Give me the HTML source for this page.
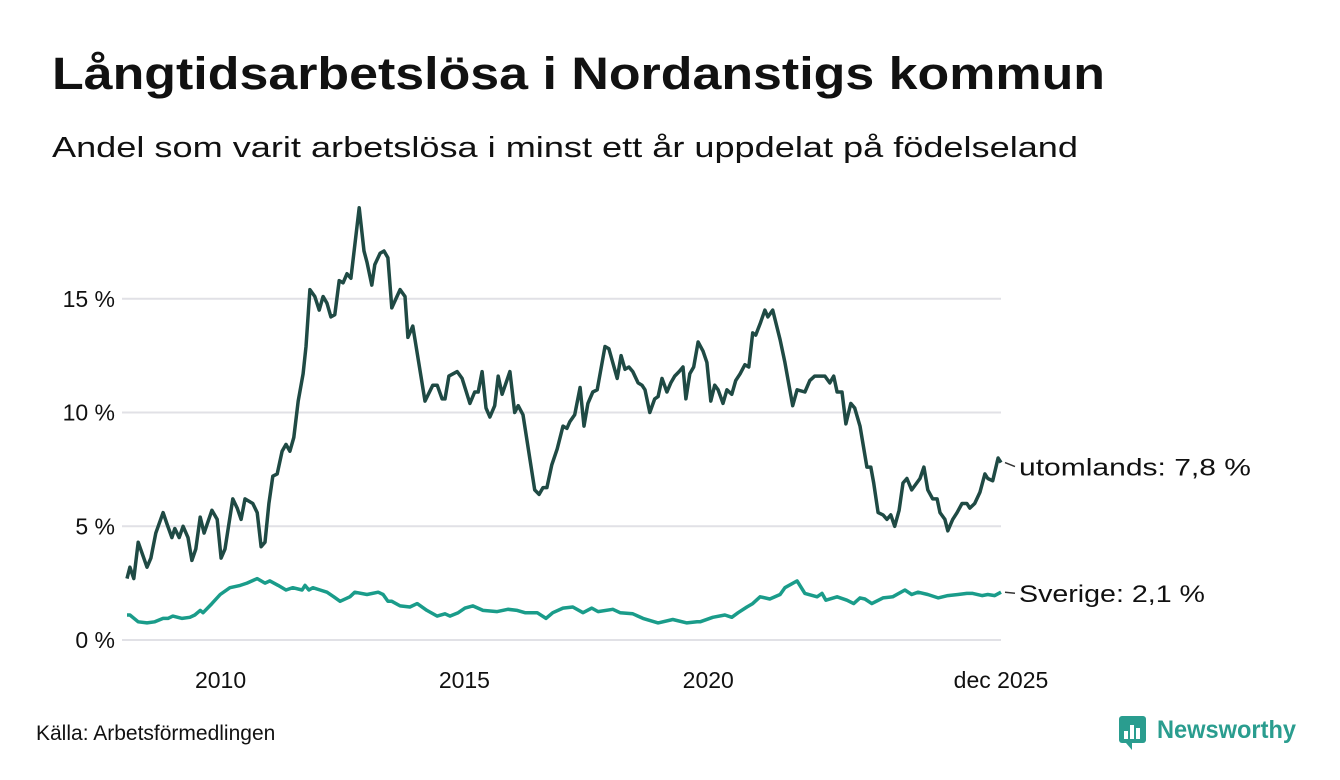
<!DOCTYPE html>
<html><head><meta charset="utf-8"><style>
html,body{margin:0;padding:0;background:#fff;}
svg{display:block;font-family:"Liberation Sans",sans-serif;}
</style></head><body>
<svg width="1340" height="780" viewBox="0 0 1340 780">
<text x="52" y="89" font-size="45" font-weight="bold" fill="#111" textLength="1053" lengthAdjust="spacingAndGlyphs">Långtidsarbetslösa i Nordanstigs kommun</text>
<text x="52" y="157" font-size="29" fill="#111" textLength="1026" lengthAdjust="spacingAndGlyphs">Andel som varit arbetslösa i minst ett år uppdelat på födelseland</text>
<g id="grid"></g>
<g id="yticks"></g>
<g id="xticks"></g>
<g id="lines"></g>
<g id="labels"></g>
<text x="36" y="740" font-size="21" fill="#111">Källa: Arbetsförmedlingen</text>
<g>
<rect x="1119" y="716" width="27" height="27" rx="3" fill="#2a9d8f"/>
<path d="M1126,743 L1132,750 L1132,743 Z" fill="#2a9d8f"/>
<rect x="1124" y="731" width="4" height="8" fill="#fff"/><rect x="1130" y="725" width="4" height="14" fill="#fff"/><rect x="1136" y="728" width="4" height="11" fill="#fff"/>
<text x="1157" y="738" font-size="25" font-weight="bold" fill="#2a9d8f" textLength="139" lengthAdjust="spacingAndGlyphs">Newsworthy</text>
</g>
</svg>
<script>
const yTicks = [0, 5, 10, 15];
const yTickLabels = ["0 %", "5 %", "10 %", "15 %"];
const xTicks = [2010, 2015, 2020, 2025.92];
const xTickLabels = ["2010", "2015", "2020", "dec 2025"];
const seriesNames = ["utomlands", "Sverige"];
const lastLabels = ["utomlands: 7,8 %", "Sverige: 2,1 %"];
const foreignT = [2008.00,2008.06,2008.14,2008.23,2008.41,2008.49,2008.59,2008.74,2008.82,2008.92,2008.98,2009.07,2009.15,2009.25,2009.33,2009.41,2009.50,2009.58,2009.74,2009.85,2009.93,2010.01,2010.17,2010.26,2010.34,2010.42,2010.58,2010.67,2010.75,2010.83,2010.91,2010.99,2011.08,2011.18,2011.26,2011.34,2011.42,2011.51,2011.61,2011.67,2011.75,2011.85,2011.94,2012.02,2012.10,2012.18,2012.26,2012.35,2012.43,2012.51,2012.59,2012.76,2012.86,2012.92,2013.02,2013.08,2013.19,2013.27,2013.35,2013.43,2013.60,2013.70,2013.76,2013.86,2014.11,2014.27,2014.36,2014.46,2014.52,2014.60,2014.77,2014.87,2015.03,2015.13,2015.20,2015.28,2015.36,2015.44,2015.54,2015.61,2015.69,2015.85,2015.95,2016.02,2016.12,2016.36,2016.45,2016.53,2016.61,2016.71,2016.82,2016.94,2017.02,2017.08,2017.18,2017.29,2017.37,2017.45,2017.55,2017.64,2017.80,2017.88,2018.05,2018.13,2018.21,2018.29,2018.37,2018.48,2018.56,2018.62,2018.72,2018.82,2018.89,2018.97,2019.07,2019.15,2019.23,2019.32,2019.40,2019.46,2019.54,2019.62,2019.71,2019.81,2019.89,2019.97,2020.05,2020.12,2020.22,2020.30,2020.40,2020.48,2020.57,2020.67,2020.75,2020.83,2020.89,2020.98,2021.08,2021.14,2021.24,2021.39,2021.49,2021.65,2021.74,2021.90,2022.00,2022.10,2022.31,2022.41,2022.49,2022.56,2022.66,2022.74,2022.84,2022.92,2023.03,2023.17,2023.25,2023.31,2023.40,2023.50,2023.58,2023.66,2023.74,2023.83,2023.91,2023.99,2024.09,2024.26,2024.34,2024.42,2024.52,2024.61,2024.67,2024.77,2024.83,2024.93,2025.02,2025.12,2025.22,2025.28,2025.38,2025.49,2025.59,2025.65,2025.75,2025.86,2025.92];
const foreignV = [2.7,3.2,2.7,4.3,3.2,3.6,4.7,5.6,5.1,4.5,4.9,4.5,5.0,4.5,3.5,4.0,5.4,4.7,5.7,5.3,3.6,4.0,6.2,5.8,5.3,6.2,6.0,5.6,4.1,4.3,6.0,7.2,7.3,8.3,8.6,8.3,8.9,10.5,11.7,12.9,15.4,15.1,14.5,15.1,14.8,14.2,14.3,15.8,15.7,16.1,15.9,19.0,17.1,16.6,15.6,16.5,17.0,17.1,16.8,14.6,15.4,15.1,13.3,13.8,10.5,11.2,11.2,10.6,10.6,11.6,11.8,11.5,10.4,10.9,10.9,11.8,10.2,9.8,10.3,11.6,10.8,11.8,10.0,10.3,9.9,6.6,6.4,6.7,6.7,7.7,8.4,9.4,9.3,9.6,9.9,11.1,9.4,10.4,10.9,11.0,12.9,12.8,11.5,12.5,11.9,12.0,11.8,11.3,11.2,11.0,10.0,10.6,10.7,11.5,10.9,11.3,11.6,11.8,12.0,10.6,11.7,12.0,13.1,12.7,12.2,10.5,11.2,11.0,10.4,11.0,10.8,11.4,11.7,12.1,12.0,13.5,13.4,13.9,14.5,14.2,14.5,13.2,12.2,10.3,11.0,10.9,11.4,11.6,11.6,11.3,11.6,10.9,10.9,9.5,10.4,10.2,9.4,7.6,7.6,6.9,5.6,5.5,5.3,5.5,5.0,5.7,6.9,7.1,6.6,7.1,7.6,6.6,6.2,6.2,5.6,5.3,4.8,5.3,5.6,6.0,6.0,5.8,6.0,6.5,7.3,7.1,7.0,8.0,7.8];
const swedenT = [2008.00,2008.06,2008.23,2008.41,2008.57,2008.74,2008.84,2008.94,2009.13,2009.29,2009.39,2009.50,2009.56,2009.74,2009.91,2010.11,2010.32,2010.46,2010.67,2010.83,2010.93,2011.10,2011.26,2011.40,2011.59,2011.65,2011.73,2011.81,2011.96,2012.10,2012.24,2012.37,2012.57,2012.67,2012.92,2013.15,2013.25,2013.35,2013.43,2013.60,2013.80,2013.95,2014.15,2014.36,2014.52,2014.62,2014.79,2014.93,2015.09,2015.30,2015.59,2015.81,2016.00,2016.16,2016.41,2016.59,2016.73,2016.94,2017.14,2017.35,2017.53,2017.66,2017.96,2018.11,2018.37,2018.58,2018.89,2019.19,2019.48,2019.69,2019.75,2020.01,2020.26,2020.40,2020.53,2020.71,2020.83,2020.98,2021.18,2021.39,2021.49,2021.74,2021.90,2022.15,2022.25,2022.33,2022.56,2022.76,2022.90,2023.03,2023.13,2023.27,2023.50,2023.70,2023.95,2024.09,2024.22,2024.42,2024.63,2024.83,2025.04,2025.22,2025.34,2025.53,2025.65,2025.79,2025.92];
const swedenV = [1.1,1.1,0.8,0.75,0.8,0.95,0.95,1.05,0.95,1.0,1.1,1.3,1.2,1.6,2.0,2.3,2.4,2.5,2.7,2.5,2.6,2.4,2.2,2.3,2.2,2.4,2.2,2.3,2.2,2.1,1.9,1.7,1.9,2.1,2.0,2.1,2.0,1.7,1.7,1.5,1.45,1.6,1.3,1.05,1.15,1.05,1.2,1.4,1.5,1.3,1.25,1.35,1.3,1.2,1.2,0.95,1.2,1.4,1.45,1.2,1.4,1.25,1.35,1.2,1.15,0.95,0.75,0.9,0.75,0.8,0.8,1.0,1.1,1.0,1.2,1.45,1.6,1.9,1.8,2.0,2.3,2.6,2.05,1.9,2.05,1.75,1.9,1.75,1.6,1.85,1.8,1.6,1.85,1.9,2.2,2.0,2.1,2.0,1.85,1.95,2.0,2.05,2.05,1.95,2.0,1.95,2.1];

const NS = "http://www.w3.org/2000/svg";
const X0 = 127, X1 = 1001, T0 = 2008.0, T1 = 2025.92;
const Y0 = 640, PXPER = 22.75;
function xs(t){ return X0 + (t - T0) / (T1 - T0) * (X1 - X0); }
function ys(v){ return Y0 - v * PXPER; }
function mk(tag, attrs, parent){ const e = document.createElementNS(NS, tag); for (const k in attrs) e.setAttribute(k, attrs[k]); parent.appendChild(e); return e; }

const grid = document.getElementById('grid');
const yt = document.getElementById('yticks');
yTicks.forEach((v, i) => {
  const l = mk('line', {x1:122, x2:1001, y1:ys(v), y2:ys(v), stroke:'#e1e1e6', 'stroke-width':2}, grid);
  
  
  const t = mk('text', {x:115, y:ys(v)+8, 'font-size':23, fill:'#111', 'text-anchor':'end'}, yt);
  t.textContent = yTickLabels[i];
  
  
});
const xt = document.getElementById('xticks');
xTicks.forEach((v, i) => {
  const t = mk('text', {x:xs(v) - (i === 3 ? 0 : 4), y:688, 'font-size':23, fill:'#111', 'text-anchor':'middle'}, xt);
  t.textContent = xTickLabels[i];
  
  
});
const lines = document.getElementById('lines');
function path(T, V){ return T.map((t, i) => (i ? 'L' : 'M') + xs(t).toFixed(1) + ',' + ys(V[i]).toFixed(1)).join(''); }
const p2 = mk('path', {d:path(swedenT, swedenV), fill:'none', stroke:'#1a9c8a', 'stroke-width':3.5, 'stroke-linejoin':'round'}, lines);


const p1 = mk('path', {d:path(foreignT, foreignV), fill:'none', stroke:'#1f4a44', 'stroke-width':3.5, 'stroke-linejoin':'round'}, lines);



const lab = document.getElementById('labels');
const ends = [[foreignT, foreignV], [swedenT, swedenV]];
const widths = [232, 186];
ends.forEach((s, i) => {
  const T = s[0], V = s[1];
  const ex = xs(T[T.length-1]), ey = ys(V[V.length-1]);
  const ly = i === 0 ? ey + 4 : ey + 1;
  const c = mk('line', {x1:ex+4, y1:ey, x2:ex+14, y2:ly, stroke:'#333', 'stroke-width':1.5}, lab);
  
  
  const t = mk('text', {x:ex+18, y:ly+9, 'font-size':24, fill:'#111', textLength:widths[i], lengthAdjust:'spacingAndGlyphs'}, lab);
  t.textContent = lastLabels[i];
  
  
});
</script>
</body></html>
